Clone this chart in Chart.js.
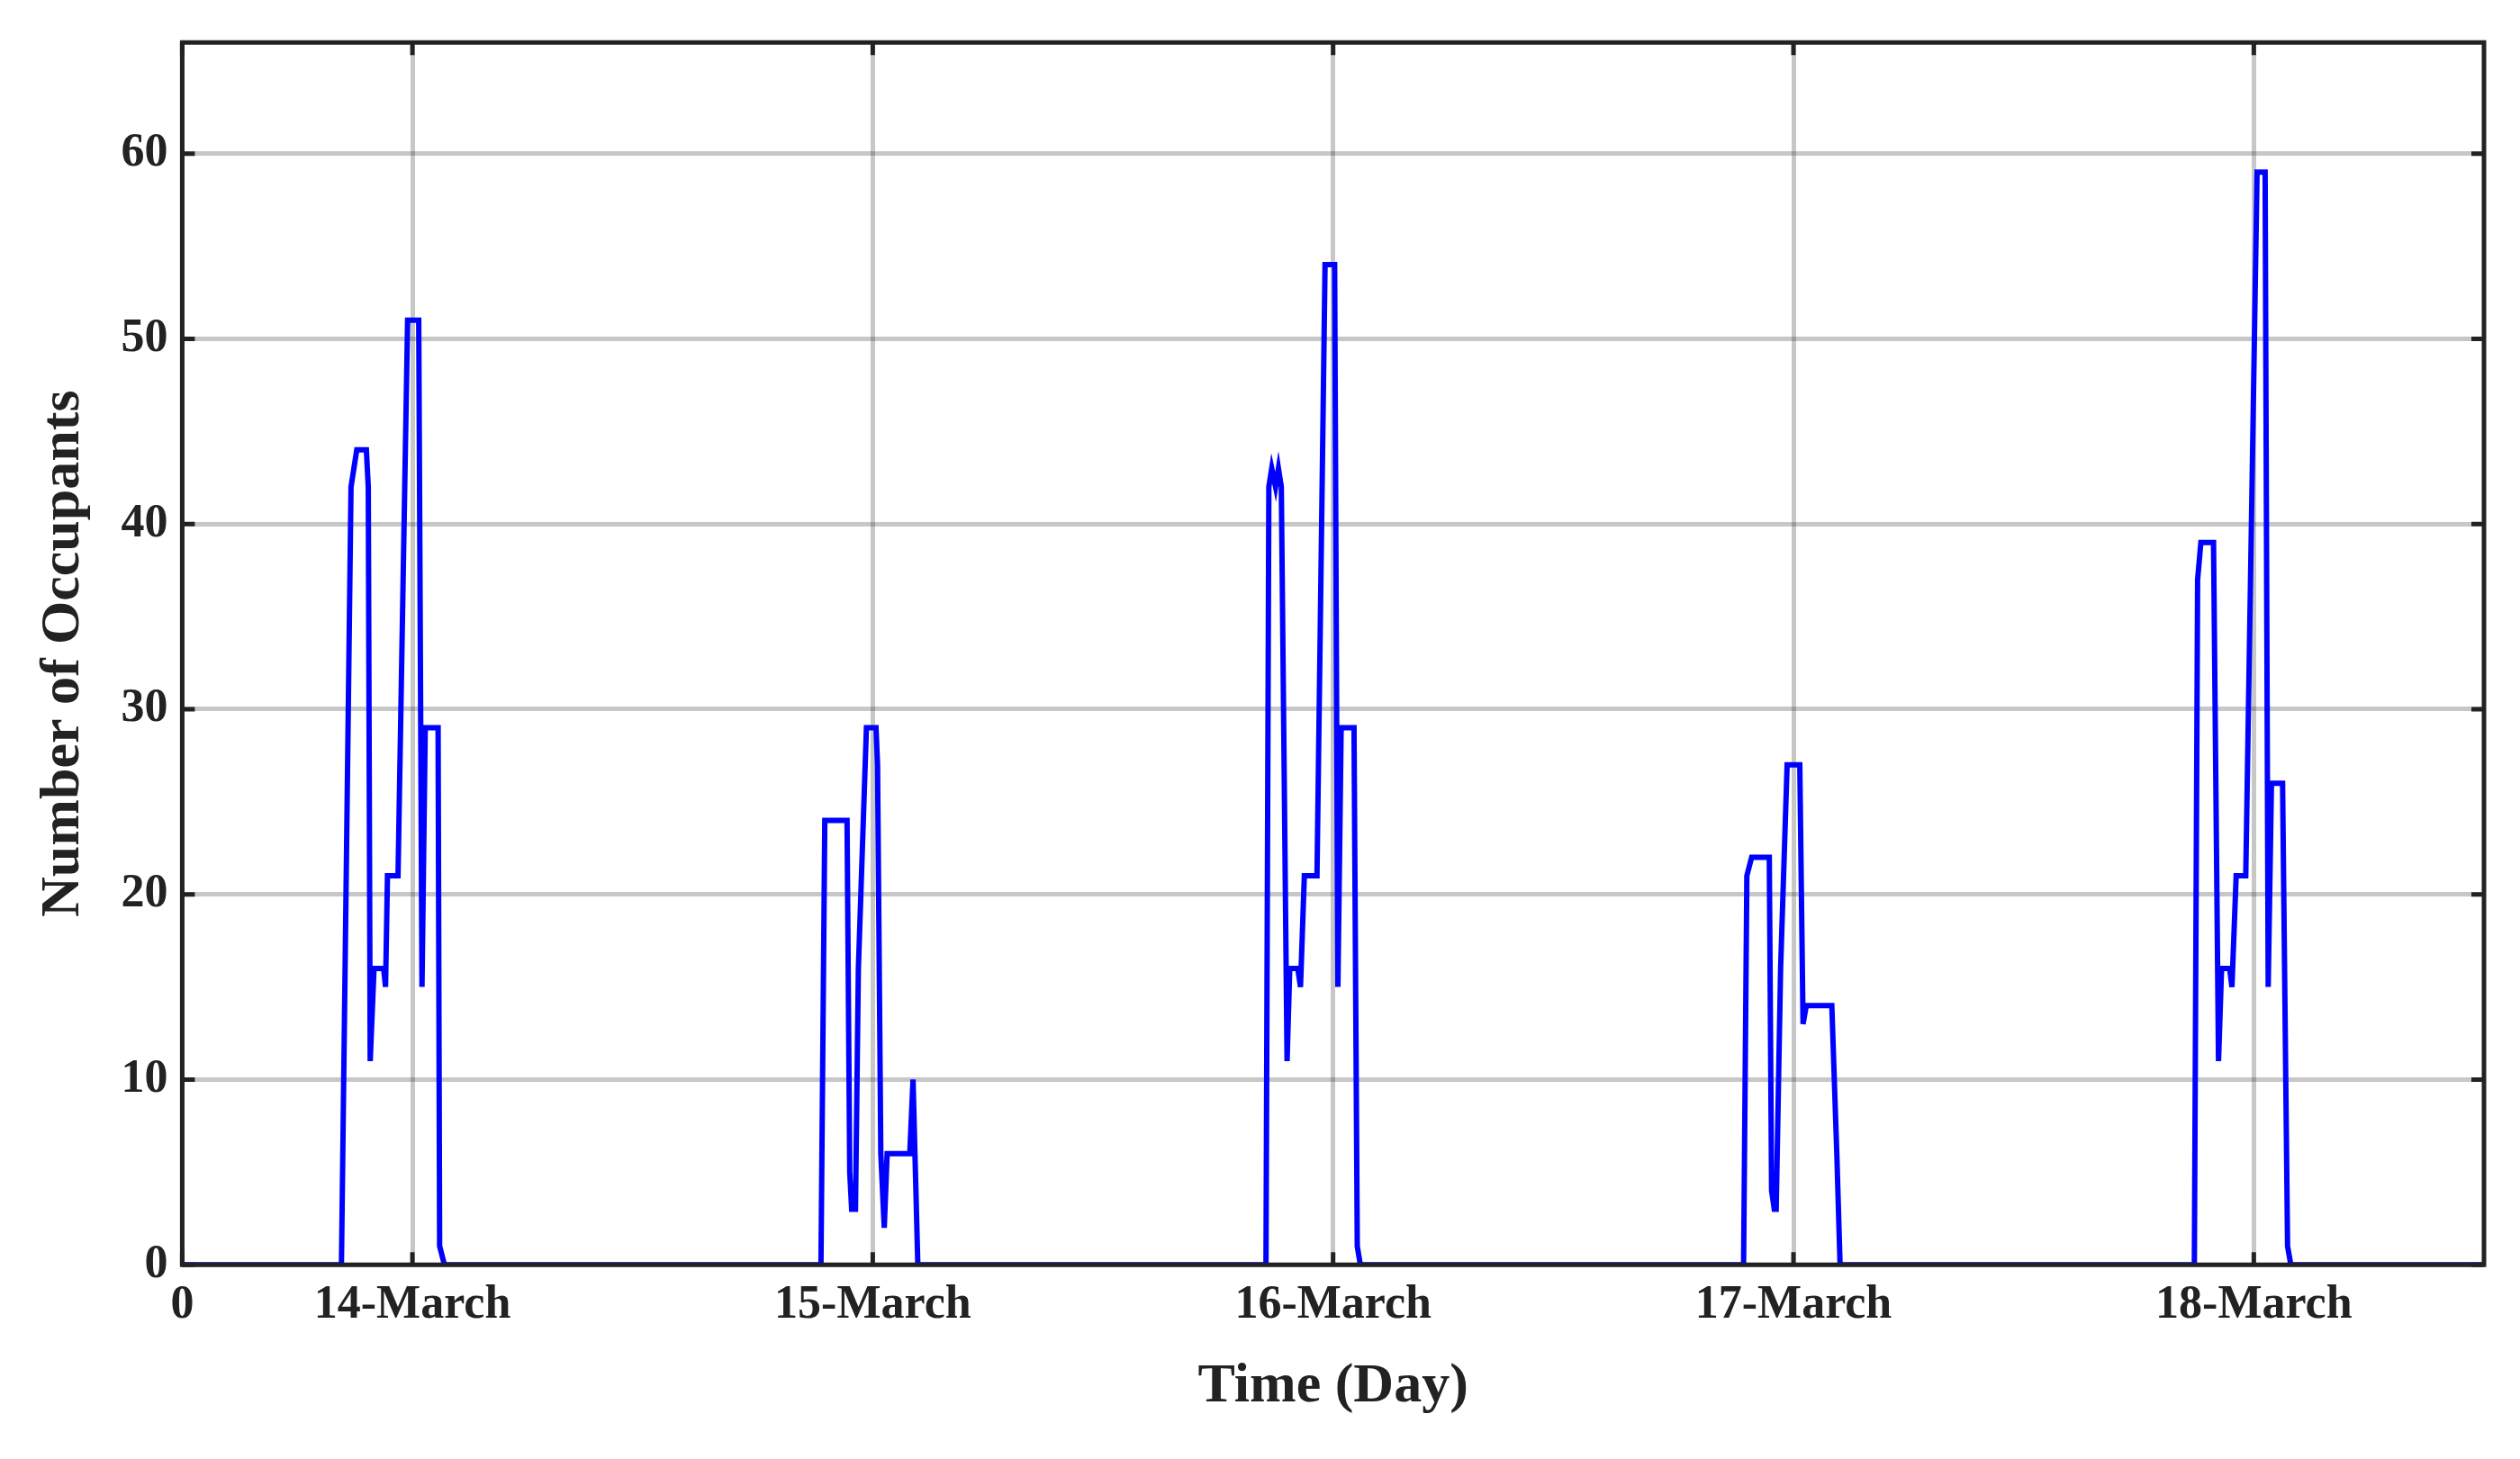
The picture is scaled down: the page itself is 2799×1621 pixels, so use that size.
<!DOCTYPE html>
<html><head><meta charset="utf-8">
<script src="https://cdn.jsdelivr.net/npm/chart.js@4"></script>
<style>html,body{margin:0;padding:0;background:#fff}canvas{display:block}</style>
</head><body>
<canvas id="c" width="2799" height="1621"></canvas>
<script>
// hours from start (14-March noon = 12 h)
const hours = [0,
 8.3,8.8,9.1,9.6,9.7,9.8,10.0,10.5,10.6,10.7,11.25,11.75,12.33,12.5,12.67,13.34,13.42,13.67,
 33.3,33.5,34.66,34.8,34.9,35.1,35.25,35.67,36.17,36.25,36.42,36.6,36.75,37.93,38.1,38.2,38.35,
 56.5,56.65,56.8,57.0,57.15,57.3,57.6,57.74,58.16,58.3,58.5,59.16,59.58,60.08,60.25,60.42,61.09,61.26,61.42,
 81.4,81.57,81.82,82.74,82.86,83.0,83.1,83.33,83.67,84.33,84.5,84.67,86.0,86.26,86.43,
 104.9,105.07,105.24,105.9,106.16,106.32,106.74,106.86,107.08,107.58,108.17,108.59,108.75,108.92,109.5,109.76,109.93,
 120];
const occupants = [0,
 0,42,44,44,42,11,16,16,15,21,21,51,51,15,29,29,1,0,
 0,24,24,5,3,3,16,29,29,27,6,2,6,6,10,6,0,
 0,42,43,42,43,42,11,16,16,15,21,21,54,54,15,29,29,1,0,
 0,21,22,22,4,3,3,16,27,27,13,14,14,6,0,
 0,37,39,39,11,16,16,15,21,21,59,59,15,26,26,1,0,
 0];
const xTickValues = [0,12,36,60,84,108];
const xTickLabels = ['0','14-March','15-March','16-March','17-March','18-March'];
const yTickValues = [0,10,20,30,40,50,60];

const pts = hours.map((h,i)=>({x:h,y:occupants[i]}));
const font = {family:'"Liberation Serif", "Times New Roman", serif', weight:'bold'};

const frame = {id:'frame', afterDraw(ch){
  const {ctx, chartArea:a, scales} = ch;
  ctx.save();
  ctx.strokeStyle='#222'; ctx.lineWidth=5;
  const L=14;
  ctx.beginPath();
  yTickValues.forEach(v=>{const y=scales.y.getPixelForValue(v);
    ctx.moveTo(a.left,y);ctx.lineTo(a.left+L,y);ctx.moveTo(a.right,y);ctx.lineTo(a.right-L,y);});
  xTickValues.forEach(v=>{const x=scales.x.getPixelForValue(v);
    ctx.moveTo(x,a.bottom);ctx.lineTo(x,a.bottom-L);ctx.moveTo(x,a.top);ctx.lineTo(x,a.top+L);});
  ctx.stroke();
  ctx.strokeRect(a.left,a.top,a.right-a.left,a.bottom-a.top);
  ctx.restore();
}};

new Chart(document.getElementById('c'),{
  type:'line',
  data:{datasets:[{data:pts,borderColor:'#0000ff',borderWidth:6,pointRadius:0,tension:0,fill:false}]},
  options:{
    responsive:false,animation:false,devicePixelRatio:1,
    layout:{padding:{left:30,right:40,top:23,bottom:39}},
    plugins:{legend:{display:false},tooltip:{enabled:false}},
    scales:{
      x:{type:'linear',min:0,max:120,
        afterBuildTicks(ax){ax.ticks=xTickValues.map(v=>({value:v}));},
        ticks:{callback:(v)=>xTickLabels[xTickValues.indexOf(v)],font:{...font,size:52},color:'#222',maxRotation:0,autoSkip:false,padding:14},
        grid:{color:'rgba(0,0,0,0.22)',lineWidth:5,tickLength:0,drawTicks:false},
        border:{display:false},
        title:{display:true,text:'Time (Day)',font:{...font,size:62},color:'#222',padding:{top:8}}},
      y:{min:0,max:66,
        afterBuildTicks(ax){ax.ticks=yTickValues.map(v=>({value:v}));},
        ticks:{font:{...font,size:52},color:'#222',padding:16},
        grid:{color:'rgba(0,0,0,0.22)',lineWidth:5,drawTicks:false},
        border:{display:false},
        title:{display:true,text:'Number of Occupants',font:{...font,size:62},color:'#222',padding:{bottom:10}}}
    }
  },
  plugins:[frame]
});
</script>
</body></html>
